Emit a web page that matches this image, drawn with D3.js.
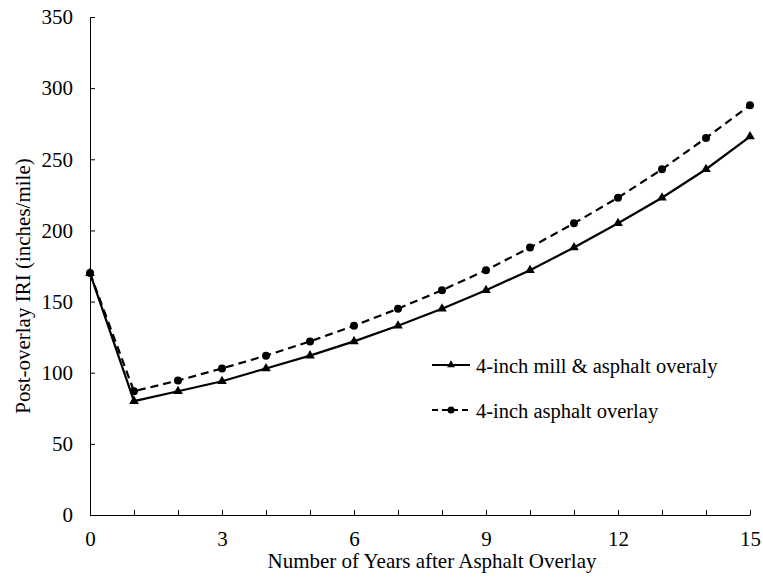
<!DOCTYPE html>
<html><head><meta charset="utf-8">
<script src="https://cdn.jsdelivr.net/npm/d3@7"></script>
<style>body{margin:0;background:#fff}svg{display:block}text{font-family:"Liberation Serif","Times New Roman",serif;fill:#000}</style>
</head><body>
<svg id="c" width="763" height="577"></svg>
<script>
const years = [0,1,2,3,4,5,6,7,8,9,10,11,12,13,14,15];
const millOverlay = [170,80,87,94,103,112,122,133,145,158,172,188,205,223,243,266];
const asphaltOverlay = [170,87,94.5,103,112,122,133,145,158,172,188,205,223,243,265,288];
const seriesNames = ["4-inch mill & asphalt overaly","4-inch asphalt overlay"];
const xTicks = [0,3,6,9,12,15];
const yTicks = [0,50,100,150,200,250,300,350];
const xTitle = "Number of Years after Asphalt Overlay";
const yTitle = "Post-overlay IRI (inches/mile)";

const svg = d3.select("#c");
const x = d3.scaleLinear().domain([0,15]).range([90,750]);
const y = d3.scaleLinear().domain([0,350]).range([515,17]);

const xAxis = d3.axisBottom(x).tickValues(years).tickSizeInner(-5).tickSizeOuter(0).tickFormat(d => xTicks.includes(d) ? d : "");
const gx = svg.append("g").attr("transform","translate(0,515)").call(xAxis);
gx.select(".domain").attr("stroke","#000").attr("stroke-width",1);
gx.selectAll(".tick line").attr("stroke","#000");
gx.selectAll(".tick text").attr("y",16).attr("dy","0.71em").attr("font-size",21).attr("font-family","Liberation Serif");

const yAxis = d3.axisLeft(y).tickValues(yTicks).tickSizeInner(-5).tickSizeOuter(0);
const gy = svg.append("g").attr("transform","translate(90,0)").call(yAxis);
gy.select(".domain").attr("stroke","#000").attr("stroke-width",1);
gy.selectAll(".tick line").attr("stroke","#000");
gy.selectAll(".tick text").attr("x",-17).attr("font-size",21).attr("font-family","Liberation Serif");

svg.append("text").attr("x",432).attr("y",568).attr("text-anchor","middle").attr("font-size",21).text(xTitle);
svg.append("text").attr("transform","translate(30,286) rotate(-90)").attr("text-anchor","middle").attr("font-size",21).text(yTitle);

const line = d3.line().x((d,i)=>x(years[i])).y(d=>y(d));

svg.append("path").datum(asphaltOverlay).attr("d",line).attr("fill","none").attr("stroke","#000").attr("stroke-width",2.2).attr("stroke-dasharray","8,5");
svg.append("g").selectAll("circle").data(asphaltOverlay).join("circle")
  .attr("cx",(d,i)=>x(years[i])).attr("cy",d=>y(d)).attr("r",4).attr("fill","#000");

svg.append("path").datum(millOverlay).attr("d",line).attr("fill","none").attr("stroke","#000").attr("stroke-width",2.2);
const tri = d3.symbol().type(d3.symbolTriangle).size(40);
svg.append("g").selectAll("path").data(millOverlay).join("path")
  .attr("d",tri).attr("transform",(d,i)=>`translate(${x(years[i])},${y(d)})`).attr("fill","#000");

const lg = svg.append("g");
const rows = [{y:365, dash:null, sym:"tri"},{y:410, dash:"6,4", sym:"circ"}];
rows.forEach((r,i)=>{
  lg.append("line").attr("x1",432).attr("x2",470).attr("y1",r.y).attr("y2",r.y).attr("stroke","#000").attr("stroke-width",2).attr("stroke-dasharray",r.dash);
  if(r.sym==="tri") lg.append("path").attr("d",d3.symbol().type(d3.symbolTriangle).size(28)).attr("transform",`translate(451,${r.y})`);
  else lg.append("circle").attr("cx",451).attr("cy",r.y).attr("r",3.5);
  lg.append("text").attr("x",476).attr("y",r.y+8).attr("font-size",20.5).text(seriesNames[i]);
});
</script>
</body></html>
